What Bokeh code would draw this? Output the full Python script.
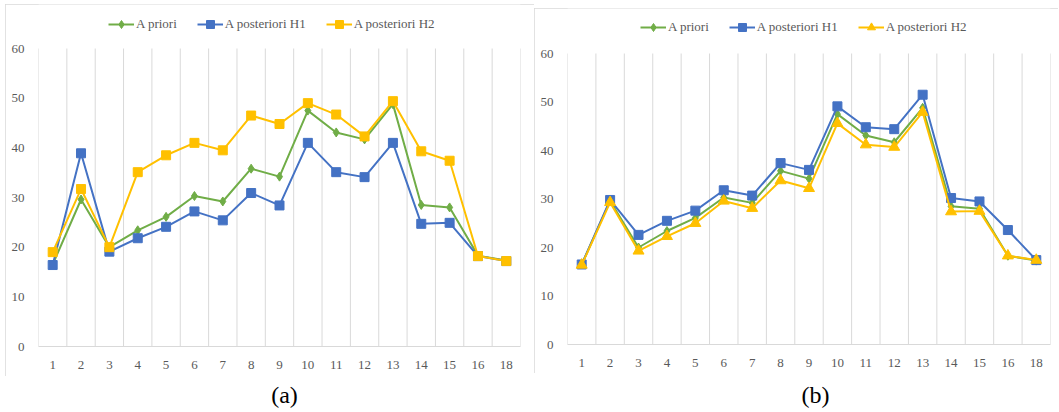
from bokeh.plotting import figure
from bokeh.models import FixedTicker, Range1d, Legend, LegendItem, Label, Spacer
from bokeh.layouts import column, row
from bokeh.embed import file_html
from bokeh.resources import INLINE

categories = ["1", "2", "3", "4", "5", "6", "7", "8", "9", "10",
              "11", "12", "13", "14", "15", "16", "18"]

a_priori = [16.5, 29.6, 20.0, 23.4, 26.1, 30.3, 29.2, 35.8, 34.2,
            47.5, 43.1, 41.7, 48.8, 28.5, 28.0, 18.3, 17.3]

# panel (a)
a_post_h1 = [16.4, 38.9, 19.1, 21.8, 24.1, 27.2, 25.4, 30.9, 28.4,
             41.0, 35.1, 34.1, 41.0, 24.7, 24.9, 18.2, 17.2]
a_post_h2 = [19.0, 31.7, 20.0, 35.1, 38.5, 41.0, 39.5, 46.5, 44.8,
             49.0, 46.7, 42.3, 49.4, 39.3, 37.4, 18.2, 17.2]

# panel (b)
b_post_h1 = [16.5, 29.8, 22.6, 25.5, 27.6, 31.8, 30.7, 37.4, 36.0,
             49.1, 44.8, 44.4, 51.5, 30.2, 29.5, 23.6, 17.4]
b_post_h2 = [16.4, 29.3, 19.3, 22.3, 25.0, 29.6, 28.1, 33.8, 32.2,
             45.6, 41.2, 40.7, 47.9, 27.4, 27.5, 18.3, 17.4]

y_ticks = [0, 10, 20, 30, 40, 50, 60]
series_names = ["A priori", "A posteriori H1", "A posteriori H2"]
captions = ["(a)", "(b)"]

GREEN = "#70AD47"
BLUE = "#4472C4"
YELLOW = "#FFC000"
SERIF = "Liberation Serif"
TXT = "#595959"
GRID = "#D9D9D9"


def make_panel(h1, h2, h2_marker, h2_size, width, height, bl, br, bb,
               top_px, leg_xy):
    """top_px: pixels between the frame top and the value 60 (room for the legend)."""
    xs = list(range(1, len(categories) + 1))
    plot_h = height - bb
    ymax = y_ticks[-1] * plot_h / (plot_h - top_px)
    p = figure(width=width, height=height, output_backend="svg", toolbar_location=None,
               x_range=Range1d(0.5, len(categories) + 0.5), y_range=Range1d(0, ymax),
               min_border_left=bl, min_border_right=br,
               min_border_top=0, min_border_bottom=bb)
    p.outline_line_color = None
    p.background_fill_color = "white"
    p.border_fill_color = "white"

    # axes
    p.xaxis.ticker = FixedTicker(ticks=xs)
    p.xaxis.major_label_overrides = {x: c for x, c in zip(xs, categories)}
    p.xaxis.axis_line_color = GRID
    p.xaxis.major_tick_line_color = None
    p.xaxis.minor_tick_line_color = None
    p.xaxis.major_label_standoff = 8
    p.yaxis.ticker = FixedTicker(ticks=y_ticks)
    p.yaxis.axis_line_color = None
    p.yaxis.major_tick_line_color = None
    p.yaxis.minor_tick_line_color = None
    p.yaxis.major_label_standoff = 8
    for ax in (p.xaxis, p.yaxis):
        ax.major_label_text_font = SERIF
        ax.major_label_text_font_size = "13px"
        ax.major_label_text_color = TXT

    p.xgrid.grid_line_color = None
    p.ygrid.grid_line_color = None
    # vertical grid lines between categories, from 0 to 60
    bounds = [i + 0.5 for i in range(0, len(categories) + 1)]
    p.segment(x0=bounds, y0=[y_ticks[0]] * len(bounds), x1=bounds,
              y1=[y_ticks[-1]] * len(bounds), line_color=GRID, line_width=1,
              level="underlay")

    r_items = []
    specs = [(a_priori, GREEN, "diamond", 9),
             (h1, BLUE, "square", 9),
             (h2, YELLOW, h2_marker, h2_size)]
    for vals, col, mk, sz in specs:
        ln = p.line(xs, vals, line_color=col, line_width=2)
        sc = p.scatter(xs, vals, marker=mk, size=sz, fill_color=col, line_color=col)
        r_items.append([ln, sc])

    legend = Legend(items=[LegendItem(label=n, renderers=r) for n, r in zip(series_names, r_items)],
                    location=leg_xy, orientation="horizontal",
                    glyph_width=26, glyph_height=20, label_height=20,
                    label_standoff=2, spacing=20,
                    padding=0, margin=0, border_line_color=None,
                    background_fill_alpha=0,
                    label_text_font=SERIF, label_text_font_size="13px",
                    label_text_color=TXT)
    p.add_layout(legend)
    p.styles = {"outline": "1px solid #D9D9D9", "outline-offset": "-1px"}
    return p


pa = make_panel(a_post_h1, a_post_h2, "square", 9, 529, 372, 33, 14, 30, 44, (70, 312))
pb = make_panel(b_post_h1, b_post_h2, "triangle", 11, 524, 365, 33, 8, 29, 45, (73, 307))

cap = figure(width=1058, height=36, output_backend="svg", toolbar_location=None,
             x_range=Range1d(0, 1), y_range=Range1d(0, 1),
             x_axis_location=None, y_axis_location=None,
             min_border=0, min_border_left=0, min_border_right=0,
             min_border_top=0, min_border_bottom=0)
cap.outline_line_color = None
cap.grid.visible = False
for txt, xpos in zip(captions, (284, 815)):
    cap.add_layout(Label(x=xpos, y=18, x_units="screen", y_units="screen", text=txt,
                         text_align="center", text_baseline="middle",
                         text_font=SERIF, text_font_size="24px", text_color="black"))

top = row(Spacer(width=5, height=10),
          column(Spacer(width=10, height=4), pa),
          column(Spacer(width=10, height=8), pb))
layout = column(top, cap)
open("out.html", "w").write(file_html(layout, INLINE))
